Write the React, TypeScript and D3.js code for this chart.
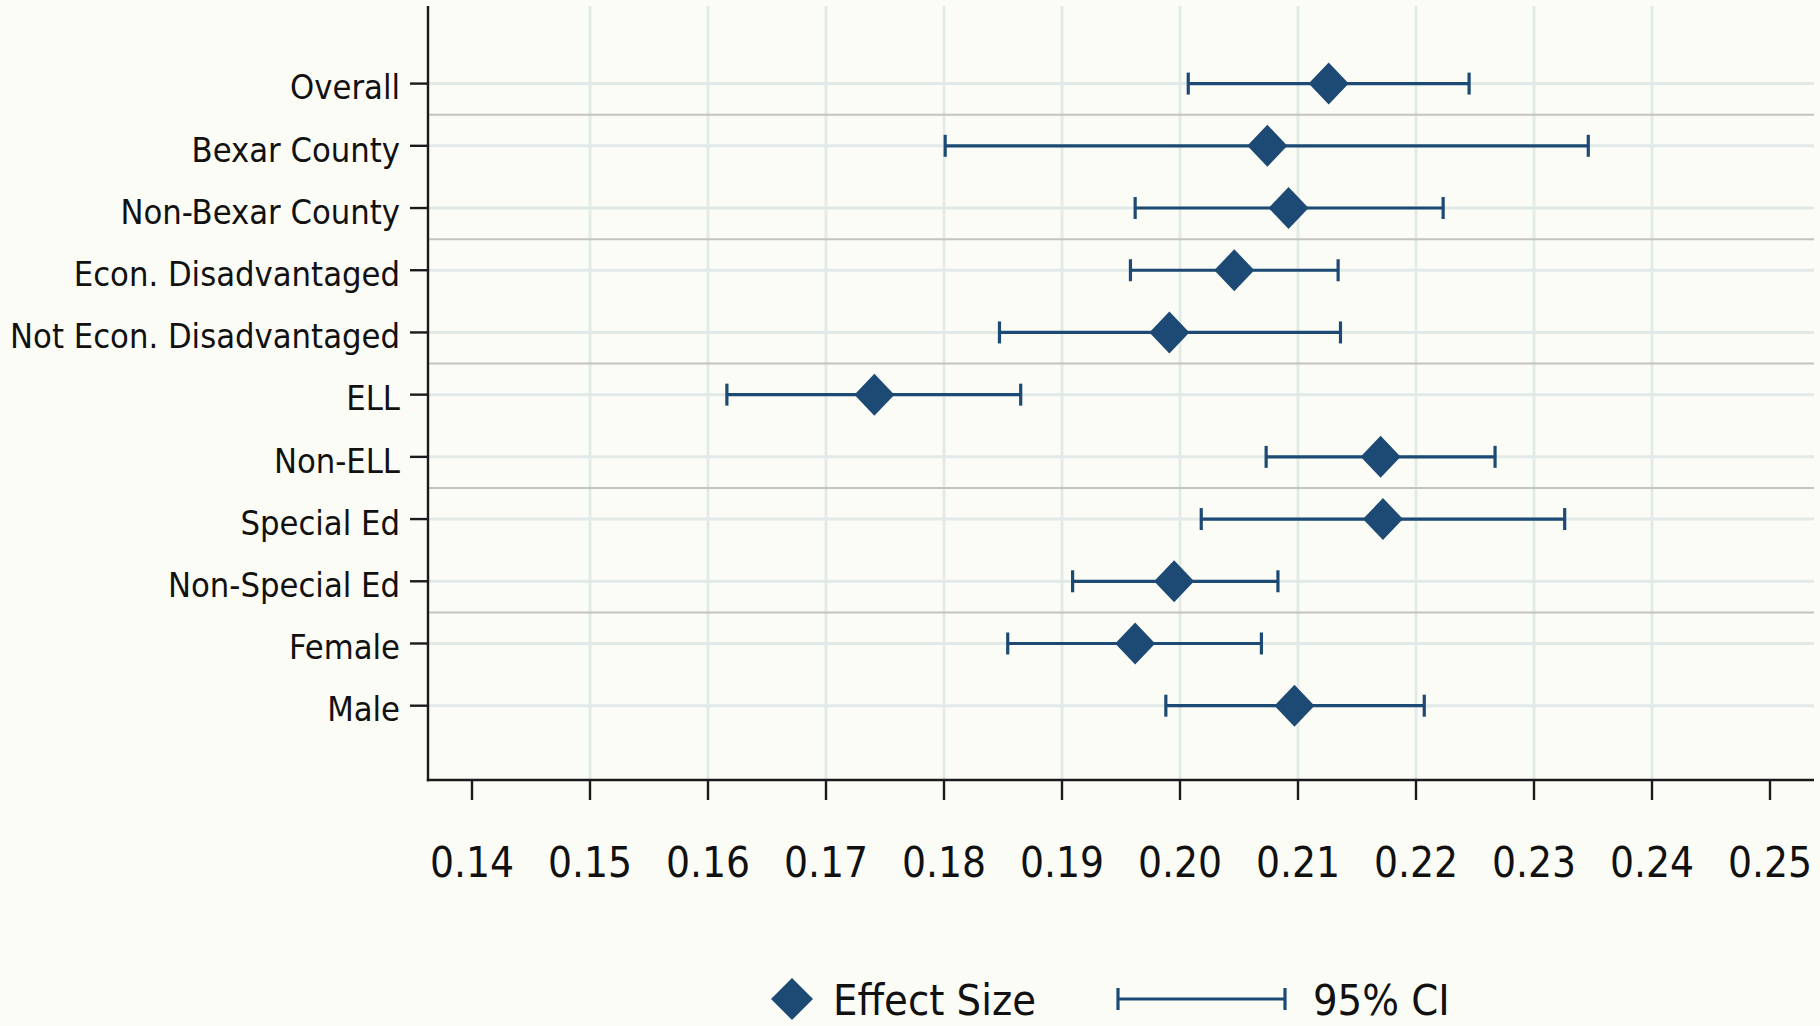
import { useEffect, useRef } from 'react';
import * as d3 from 'd3';

/* ═══ Data ═══ */
const groups = [
  'Overall',
  'Bexar County',
  'Non-Bexar County',
  'Econ. Disadvantaged',
  'Not Econ. Disadvantaged',
  'ELL',
  'Non-ELL',
  'Special Ed',
  'Non-Special Ed',
  'Female',
  'Male',
];
const effect = [0.2126, 0.2074, 0.2092, 0.2046, 0.1991, 0.1741, 0.2170, 0.2172, 0.1995, 0.1962, 0.2097];
const ciLow = [0.2007, 0.1801, 0.1962, 0.1958, 0.1847, 0.1616, 0.2073, 0.2018, 0.1909, 0.1854, 0.1988];
const ciHigh = [0.2245, 0.2346, 0.2223, 0.2134, 0.2136, 0.1865, 0.2267, 0.2326, 0.2083, 0.2069, 0.2207];
// group breaks sit after these rows
const breaks = [0, 2, 4, 6, 8];
const xTicks = [0.14, 0.15, 0.16, 0.17, 0.18, 0.19, 0.20, 0.21, 0.22, 0.23, 0.24, 0.25];

const W = 1820;
const H = 1026;
const BG = '#fcfcf7';
const NAVY = '#1c4a74';
const GRID = '#e1eae7';
const SEP = '#c3c4bf';
const FONT = "'DejaVu Sans Condensed', 'DejaVu Sans', sans-serif";

export default function App() {
  const ref = useRef<SVGSVGElement | null>(null);

  useEffect(() => {
    if (!ref.current) return;
    const svg = d3.select(ref.current);
    svg.selectAll('*').remove();

    const left = 428, right = 1814, top = 6, bottom = 780;

    const x = d3.scaleLinear().domain([0.14, 0.25]).range([472, 1770]);
    const y = d3.scaleLinear().domain([0, groups.length - 1]).range([83.6, 705.7]);

    svg.append('rect').attr('width', W).attr('height', H).attr('fill', BG);

    /* ── grid ── */
    const g = svg.append('g');
    g.selectAll('line.vg').data(xTicks.slice(1, -1)).join('line')
      .attr('x1', d => x(d)).attr('x2', d => x(d))
      .attr('y1', top).attr('y2', bottom)
      .attr('stroke', GRID).attr('stroke-width', 2.8);
    g.selectAll('line.hg').data(groups).join('line')
      .attr('x1', left).attr('x2', right)
      .attr('y1', (_, i) => y(i)).attr('y2', (_, i) => y(i))
      .attr('stroke', GRID).attr('stroke-width', 3);
    g.selectAll('line.sep').data(breaks).join('line')
      .attr('x1', left).attr('x2', right)
      .attr('y1', d => y(d + 0.5)).attr('y2', d => y(d + 0.5))
      .attr('stroke', SEP).attr('stroke-width', 2);

    /* ── axes ── */
    const ax = svg.append('g').attr('stroke', '#1a1a1a').attr('stroke-width', 2.4);
    ax.append('line').attr('x1', left).attr('x2', left).attr('y1', top).attr('y2', bottom + 1.2);
    ax.append('line').attr('x1', left - 1.2).attr('x2', right).attr('y1', bottom).attr('y2', bottom);
    ax.selectAll('line.xt').data(xTicks).join('line')
      .attr('x1', d => x(d)).attr('x2', d => x(d))
      .attr('y1', bottom).attr('y2', bottom + 20);
    ax.selectAll('line.yt').data(groups).join('line')
      .attr('x1', left - 18).attr('x2', left)
      .attr('y1', (_, i) => y(i)).attr('y2', (_, i) => y(i));

    svg.append('g').selectAll('text').data(xTicks).join('text')
      .attr('x', d => x(d)).attr('y', 877)
      .attr('text-anchor', 'middle')
      .attr('font-family', FONT).attr('font-size', 42).attr('fill', '#111')
      .text(d => d.toFixed(2));

    svg.append('g').selectAll('text').data(groups).join('text')
      .attr('x', 400).attr('y', (_, i) => y(i)).attr('dy', '0.46em')
      .attr('text-anchor', 'end')
      .attr('font-family', FONT).attr('font-size', 34.2).attr('fill', '#111')
      .text(d => d);

    /* ── CIs + diamonds ── */
    const diamond = (cx: number, cy: number, hw: number, hh: number) =>
      `M${cx},${cy - hh}L${cx + hw},${cy}L${cx},${cy + hh}L${cx - hw},${cy}Z`;

    const ci = svg.append('g').attr('stroke', NAVY).attr('stroke-width', 3.2);
    groups.forEach((_, i) => {
      const cy = y(i);
      ci.append('line').attr('x1', x(ciLow[i])).attr('x2', x(ciHigh[i])).attr('y1', cy).attr('y2', cy);
      ci.append('line').attr('x1', x(ciLow[i])).attr('x2', x(ciLow[i])).attr('y1', cy - 11).attr('y2', cy + 11);
      ci.append('line').attr('x1', x(ciHigh[i])).attr('x2', x(ciHigh[i])).attr('y1', cy - 11).attr('y2', cy + 11);
    });
    svg.append('g').selectAll('path').data(effect).join('path')
      .attr('d', (d, i) => diamond(x(d), y(i), 20, 21))
      .attr('fill', NAVY);

    /* ── legend ── */
    const lg = svg.append('g');
    lg.append('path').attr('d', diamond(792, 999, 21, 21)).attr('fill', NAVY);
    lg.append('text').attr('x', 833).attr('y', 1015)
      .attr('font-family', FONT).attr('font-size', 43).attr('fill', '#111')
      .text('Effect Size');
    const lc = lg.append('g').attr('stroke', NAVY).attr('stroke-width', 3.2);
    lc.append('line').attr('x1', 1118).attr('x2', 1285).attr('y1', 999).attr('y2', 999);
    lc.append('line').attr('x1', 1118).attr('x2', 1118).attr('y1', 988).attr('y2', 1010);
    lc.append('line').attr('x1', 1285).attr('x2', 1285).attr('y1', 988).attr('y2', 1010);
    lg.append('text').attr('x', 1313).attr('y', 1015)
      .attr('font-family', FONT).attr('font-size', 43).attr('fill', '#111')
      .text('95% CI');
  }, []);

  return (
    <svg
      ref={ref}
      width={W}
      height={H}
      style={{ position: 'absolute', left: 0, top: 0, display: 'block' }}
    />
  );
}
